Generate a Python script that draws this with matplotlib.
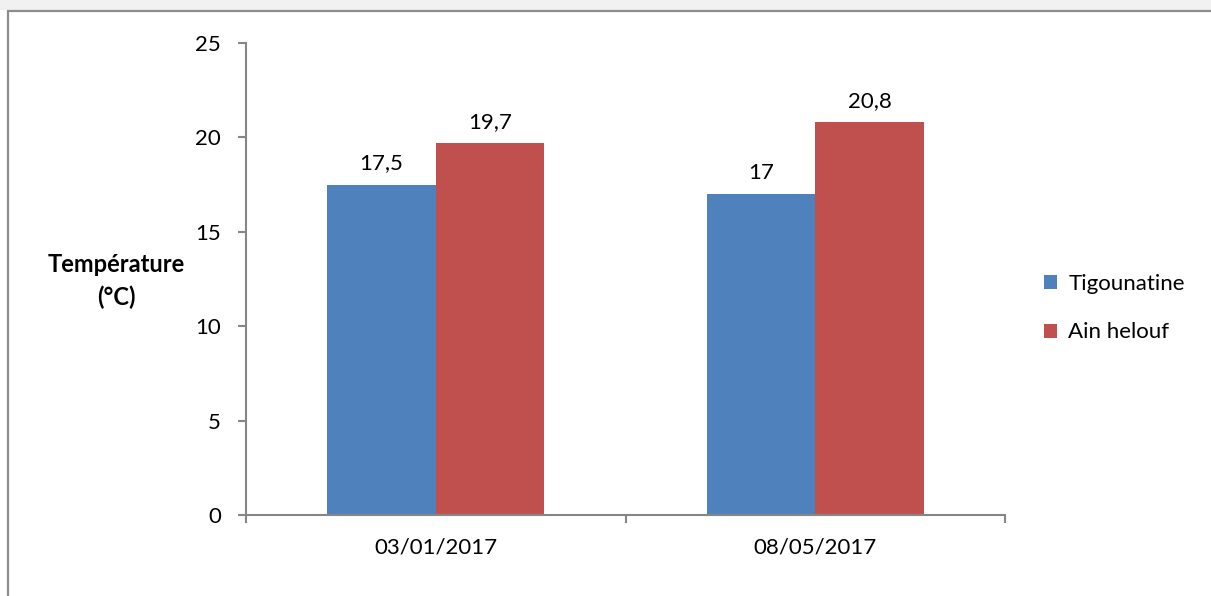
import matplotlib.pyplot as plt
import numpy as np
from matplotlib.patches import Rectangle

dates = ["03/01/2017", "08/05/2017"]
tigounatine = [17.5, 17]
ain_helouf = [19.7, 20.8]
labels_t = ["17,5", "17"]
labels_a = ["19,7", "20,8"]

plt.rcParams['font.family'] = ['Lato', 'DejaVu Sans']
fs = 16

fig = plt.figure(figsize=(12.11, 5.96), dpi=100)
W, H = 1211, 596

# window-like frame around the chart, kept behind the axes
fig.patches.append(Rectangle((0, 1 - 10 / H), 1, 10 / H, transform=fig.transFigure,
                             facecolor='#f1f1f1', edgecolor='none', zorder=-10))
fig.patches.append(Rectangle((8 / W, -0.05), 1.05, 1 - 11 / H + 0.05, transform=fig.transFigure,
                             facecolor='white', edgecolor='#8c8c8c', linewidth=1.6, zorder=-10))

ax = fig.add_axes([246 / W, 1 - 515 / H, (1005 - 246) / W, (515 - 43) / H])
ax.patch.set_alpha(0)
x = np.arange(len(dates))
w = 1 / 3.5
b1 = ax.bar(x - w / 2, tigounatine, w, color='#4f81bd', label='Tigounatine')
b2 = ax.bar(x + w / 2, ain_helouf, w, color='#c0504d', label='Ain helouf')

for bars, labs in ((b1, labels_t), (b2, labels_a)):
    for r, t in zip(bars, labs):
        ax.annotate(t, (r.get_x() + r.get_width() / 2, r.get_height()),
                    xytext=(0, 8), textcoords='offset points', ha='center', va='bottom',
                    fontsize=fs)

ax.set_xlim(-0.5, 1.5)
ax.set_ylim(0, 25)
ax.set_yticks(range(0, 26, 5))
ax.set_xticks(x)
ax.set_xticklabels(dates)
ax.set_xticks([-0.5, 0.5, 1.5], minor=True)
ax.tick_params(axis='x', which='major', length=0, pad=16, labelsize=fs)
ax.tick_params(axis='x', which='minor', length=6, width=1.5, color='#868686', direction='out')
ax.tick_params(axis='y', length=6, width=1.5, color='#868686', direction='out', pad=12, labelsize=fs)
for s in ['top', 'right']:
    ax.spines[s].set_visible(False)
for s in ['left', 'bottom']:
    ax.spines[s].set_color('#868686')
    ax.spines[s].set_linewidth(1.5)

fig.text(116 / W, 1 - 281 / H, "Température\n(°C)", ha='center', va='center',
         fontsize=17, fontweight='bold', linespacing=1.45)

ax.legend(loc='center left', bbox_to_anchor=(1024 / W, 1 - 308 / H), bbox_transform=fig.transFigure,
          frameon=False, fontsize=fs, handlelength=0.6, handleheight=0.6,
          handletextpad=0.5, labelspacing=1.3)

fig.savefig('out.png', dpi=100)
